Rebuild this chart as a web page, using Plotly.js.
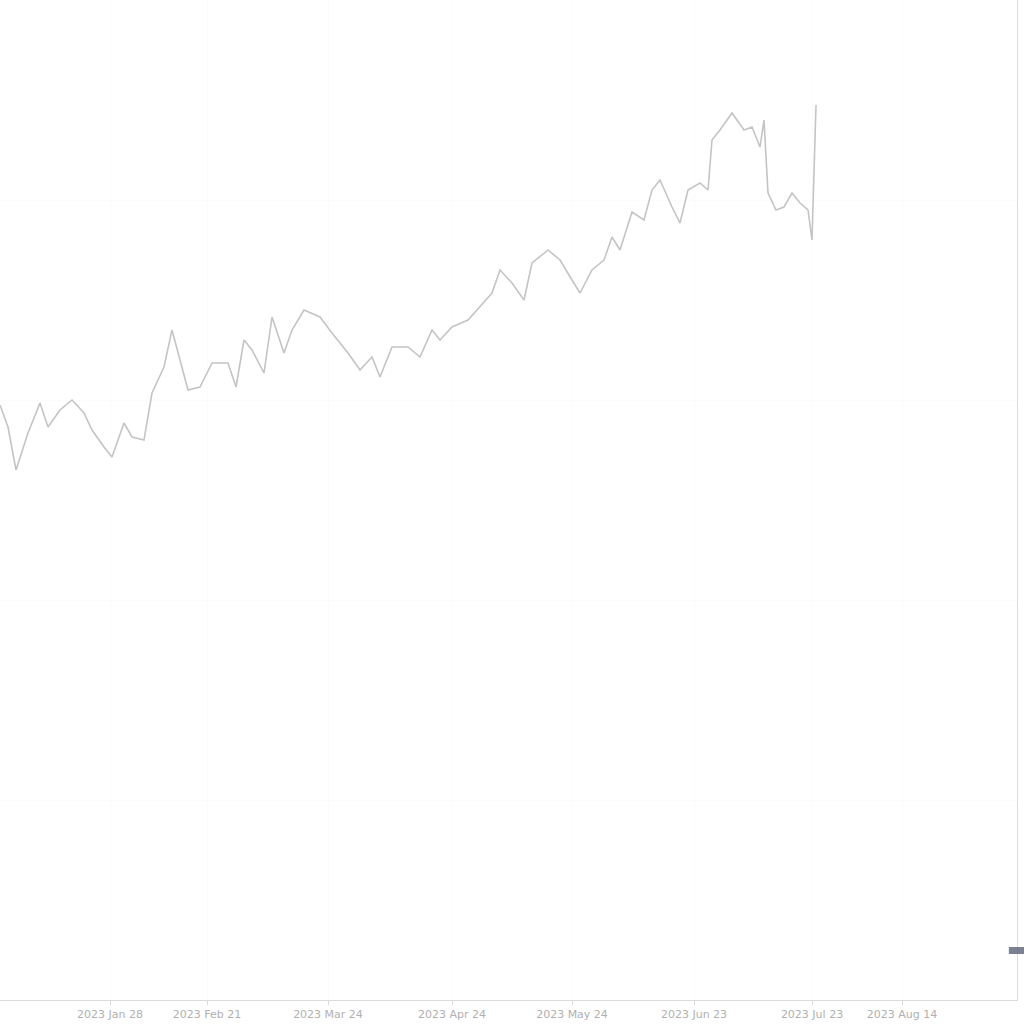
<!DOCTYPE html>
<html>
<head>
<meta charset="utf-8">
<script src="https://cdn.plot.ly/plotly-3.0.1.min.js"></script>
<style>html,body{margin:0;padding:0;background:#fff;}#chart{width:1024px;height:1024px;}</style>
</head>
<body>
<div id="chart"></div>
<script>
const dates = [
  "2023-01-01","2023-01-03","2023-01-05","2023-01-08","2023-01-11","2023-01-13","2023-01-16","2023-01-19",
  "2023-01-22","2023-01-24","2023-01-27","2023-01-29","2023-02-01","2023-02-03","2023-02-06","2023-02-08",
  "2023-02-11","2023-02-13","2023-02-17","2023-02-20","2023-02-23","2023-02-27","2023-03-01","2023-03-03",
  "2023-03-05","2023-03-08","2023-03-10","2023-03-13","2023-03-15","2023-03-18","2023-03-22","2023-03-25",
  "2023-03-29","2023-04-01","2023-04-04","2023-04-06","2023-04-09","2023-04-13","2023-04-16","2023-04-19",
  "2023-04-21","2023-04-24","2023-04-28","2023-05-01","2023-05-04","2023-05-06","2023-05-09","2023-05-12",
  "2023-05-14","2023-05-18","2023-05-21","2023-05-24","2023-05-26","2023-05-29","2023-06-01","2023-06-03",
  "2023-06-05","2023-06-08","2023-06-11","2023-06-13","2023-06-15","2023-06-18","2023-06-20","2023-06-22",
  "2023-06-25","2023-06-27","2023-06-28","2023-06-30","2023-07-03","2023-07-06","2023-07-08","2023-07-10",
  "2023-07-11","2023-07-12","2023-07-14","2023-07-16","2023-07-18","2023-07-20","2023-07-22","2023-07-23",
  "2023-07-24"
];
const values = [
  59.5,57.3,53.0,56.7,59.7,57.3,59.0,60.0,
  58.7,57.0,55.3,54.3,57.7,56.3,56.0,60.7,
  63.3,67.0,61.0,61.3,63.7,63.7,61.3,66.0,
  65.0,62.7,68.3,64.7,67.0,69.0,68.3,66.7,
  64.7,63.0,64.3,62.3,65.3,65.3,64.3,67.0,
  66.0,67.3,68.0,69.3,70.7,73.0,71.7,70.0,
  73.7,75.0,74.0,72.0,70.7,73.0,74.0,76.3,
  75.0,78.8,78.0,81.0,82.0,79.3,77.7,81.0,
  81.7,81.0,86.0,87.0,88.7,87.0,87.3,85.3,
  88.0,80.7,79.0,79.3,80.7,79.7,79.0,76.0,
  89.5
];
const tickDates = ["2023-01-28 12:00","2023-02-21 18:00","2023-03-24","2023-04-24","2023-05-24","2023-06-23 12:00","2023-07-23","2023-08-14 12:00"];
const tickLabels = ["2023 Jan 28","2023 Feb 21","2023 Mar 24","2023 Apr 24","2023 May 24","2023 Jun 23","2023 Jul 23","2023 Aug 14"];
const xRange = ["2023-01-01 00:00","2023-09-12 06:00"];
const yRange = [0, 100];

const trace = {
  type: "scatter",
  mode: "lines",
  x: dates,
  y: values,
  line: {color: "#c4c4c4", width: 1.6},
  hoverinfo: "x+y"
};

const layout = {
  width: 1024,
  height: 1024,
  margin: {l: 0, r: 7, t: 0, b: 24},
  paper_bgcolor: "#ffffff",
  plot_bgcolor: "#ffffff",
  showlegend: false,
  font: {family: "DejaVu Sans, sans-serif", size: 11, color: "#b0b0b0"},
  xaxis: {
    type: "date",
    range: xRange,
    tickmode: "array",
    tickvals: tickDates,
    ticktext: tickLabels,
    ticks: "outside",
    ticklen: 4,
    tickcolor: "#d8d8d8",
    showline: true,
    linecolor: "#dcdcdc",
    linewidth: 1,
    showgrid: true,
    gridcolor: "#fbfbfb",
    zeroline: false,
    tickfont: {size: 11, color: "#b0b0b0"}
  },
  yaxis: {
    range: yRange,
    side: "right",
    showline: true,
    linecolor: "#dcdcdc",
    linewidth: 1,
    showticklabels: false,
    ticks: "",
    showgrid: true,
    gridcolor: "#fcfcfc",
    zeroline: false
  },
  shapes: [
    {type: "rect", xref: "paper", yref: "paper", x0: 0.992, x1: 1.01, y0: 0.046, y1: 0.053,
     fillcolor: "#5a6178", line: {width: 0}, opacity: 0.8}
  ]
};

Plotly.newPlot("chart", [trace], layout, {displayModeBar: false, staticPlot: true});
</script>
</body>
</html>
